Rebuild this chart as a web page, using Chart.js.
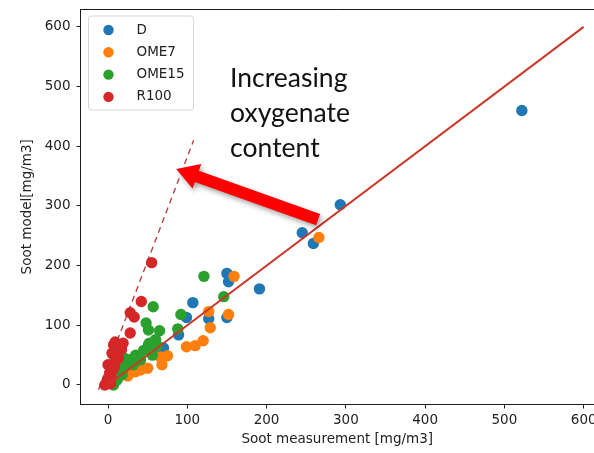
<!DOCTYPE html>
<html>
<head>
<meta charset="utf-8">
<script src="https://cdn.jsdelivr.net/npm/chart.js@4/dist/chart.umd.min.js"></script>
<style>
  html, body { margin: 0; padding: 0; background: #fff; overflow: hidden; }
</style>
</head>
<body>
<canvas id="soot" width="594" height="453"></canvas>
<script>
// measured vs modelled soot, one point list per fuel
const seriesNames = ["D", "OME7", "OME15", "R100"];
const seriesColors = ["#1f77b4", "#ff7f0e", "#2ca02c", "#d62728"];

const sootD = [
  [522, 460], [293, 302], [245, 255], [259, 237], [191, 161], [150, 187],
  [152, 173], [107, 138], [127, 111], [150, 113], [99, 113], [89, 84],
  [51, 67], [70, 62], [66, 56], [40, 40], [25, 30], [12, 10], [5, 5]
];
const sootOME7 = [
  [266, 247], [159, 182], [127, 123], [152, 118], [129, 96], [120, 74],
  [110, 66], [99, 64], [75, 49], [66, 47], [68, 34], [50, 28], [41, 25],
  [34, 22], [18, 25], [25, 15], [10, 12], [5, 5]
];
const sootOME15 = [
  [121, 182], [146, 148], [92, 118], [88, 94], [57, 131], [48, 104],
  [51, 92], [65, 91], [60, 76], [52, 70], [51, 62], [56, 50], [41, 42],
  [32, 45], [22, 44], [26, 37], [32, 34], [18, 17], [11, 8], [7, 0],
  [18, 25], [35, 50], [15, 30], [45, 58], [62, 66]
];
const sootR100 = [
  [55, 205], [42, 140], [28, 121], [33, 114], [28, 87], [15, 64], [9, 72],
  [19, 70], [7, 67], [17, 59], [5, 53], [13, 45], [0, 34], [2, 20], [-1, 8],
  [-4, 0], [3, 2], [8, 30], [10, 40], [12, 50], [4, 12], [6, 25], [1, 5]
];

// reference lines: parity y = x and the steeper dashed guide
const parityLine = [[0, 0], [600, 600]];
const dashedLine = [[-12, -8], [108, 410]];

const xTicks = [0, 100, 200, 300, 400, 500, 600];
const yTicks = [0, 100, 200, 300, 400, 500, 600];

const annotationLines = ["Increasing", "oxygenate", "content"];

const toXY = pts => pts.map(p => ({ x: p[0], y: p[1] }));
const tickFont = { family: "DejaVu Sans", size: 13.5 };

const pointSet = (i, pts, order) => ({
  label: seriesNames[i],
  data: toXY(pts),
  backgroundColor: seriesColors[i],
  borderWidth: 0,
  pointRadius: 5.7,
  pointHoverRadius: 5.7,
  order: order
});

// top edge of the frame, legend box, arrow and text over the plot
const overlay = {
  id: "overlay",
  afterDatasetsDraw(chart) {
    const { ctx, chartArea: a, scales: { x, y } } = chart;
    ctx.save();

    ctx.strokeStyle = "#1a1a1a";
    ctx.lineWidth = 1;
    ctx.beginPath();
    ctx.moveTo(a.left, Math.round(a.top) + 0.5);
    ctx.lineTo(a.right, Math.round(a.top) + 0.5);
    ctx.stroke();

    // legend
    const lx = a.left + 8, ly = a.top + 7, lw = 105, lh = 94;
    ctx.beginPath();
    ctx.roundRect(lx, ly, lw, lh, 3);
    ctx.fillStyle = "rgba(255,255,255,0.85)";
    ctx.fill();
    ctx.strokeStyle = "#d6d6d6";
    ctx.stroke();
    ctx.font = "13.5px 'DejaVu Sans'";
    ctx.textBaseline = "middle";
    seriesNames.forEach((name, i) => {
      const cy = ly + 14 + i * 22.3;
      ctx.beginPath();
      ctx.arc(lx + 20, cy, 5.2, 0, Math.PI * 2);
      ctx.fillStyle = seriesColors[i];
      ctx.fill();
      ctx.fillStyle = "#222";
      ctx.fillText(name, lx + 48, cy);
    });

    // arrow pointing towards the dashed guide
    const tipX = x.getPixelForValue(86), tipY = y.getPixelForValue(362);
    const tailX = x.getPixelForValue(265), tailY = y.getPixelForValue(277);
    const ang = Math.atan2(tipY - tailY, tipX - tailX);
    const len = Math.hypot(tipX - tailX, tipY - tailY);
    const shaftHalf = 6, headLen = 22, headHalf = 13;
    ctx.translate(tailX, tailY);
    ctx.rotate(ang);
    ctx.shadowColor = "rgba(0,0,0,0.35)";
    ctx.shadowBlur = 5;
    ctx.shadowOffsetX = 2;
    ctx.shadowOffsetY = 3;
    ctx.beginPath();
    ctx.moveTo(0, -shaftHalf);
    ctx.lineTo(len - headLen, -shaftHalf);
    ctx.lineTo(len - headLen, -headHalf);
    ctx.lineTo(len, 0);
    ctx.lineTo(len - headLen, headHalf);
    ctx.lineTo(len - headLen, shaftHalf);
    ctx.lineTo(0, shaftHalf);
    ctx.closePath();
    ctx.fillStyle = "#ff0000";
    ctx.fill();
    ctx.setTransform(1, 0, 0, 1, 0, 0);
    ctx.shadowColor = "transparent";

    // annotation text
    ctx.fillStyle = "#111";
    ctx.font = "26.5px Lato";
    ctx.textBaseline = "alphabetic";
    ctx.textAlign = "left";
    const tx = x.getPixelForValue(154);
    annotationLines.forEach((line, i) => {
      ctx.fillText(line, tx, 87 + i * 35);
    });

    ctx.restore();
  }
};

new Chart(document.getElementById("soot"), {
  type: "scatter",
  data: {
    datasets: [
      {
        label: "parity",
        data: toXY(parityLine),
        showLine: true,
        borderColor: "#c8392b",
        borderWidth: 2,
        pointRadius: 0,
        order: 0
      },
      {
        label: "guide",
        data: toXY(dashedLine),
        showLine: true,
        borderColor: "rgba(176,48,48,0.9)",
        borderWidth: 1.4,
        borderDash: [6, 4.5],
        pointRadius: 0,
        order: 0
      },
      pointSet(0, sootD, 4),
      pointSet(1, sootOME7, 3),
      pointSet(2, sootOME15, 2),
      pointSet(3, sootR100, 1)
    ]
  },
  options: {
    responsive: false,
    animation: false,
    layout: { autoPadding: false, padding: { top: 9, right: 0, left: 0, bottom: 0 } },
    scales: {
      x: {
        type: "linear",
        min: -34.7,
        max: 613,
        afterBuildTicks: s => { s.ticks = xTicks.map(v => ({ value: v })); },
        afterFit: s => { s.height = 48.5; s.paddingLeft = 0; s.paddingRight = 0; },
        grid: { drawOnChartArea: false, drawTicks: true, tickLength: 4, color: "#222" },
        border: { color: "#1a1a1a" },
        ticks: { font: tickFont, color: "#222", padding: 4, maxRotation: 0 },
        title: {
          display: true,
          text: "Soot measurement [mg/m3]",
          font: tickFont,
          color: "#222",
          padding: { top: 0, bottom: 5 }
        }
      },
      y: {
        type: "linear",
        min: -32.7,
        max: 630,
        afterBuildTicks: s => { s.ticks = yTicks.map(v => ({ value: v })); },
        afterFit: s => { s.width = 80.5; s.paddingTop = 0; s.paddingBottom = 0; },
        grid: { drawOnChartArea: false, drawTicks: true, tickLength: 4, color: "#222" },
        border: { color: "#1a1a1a" },
        ticks: { font: tickFont, color: "#222", padding: 6 },
        title: {
          display: true,
          text: "Soot model[mg/m3]",
          font: tickFont,
          color: "#222",
          padding: { top: 19, bottom: 0 }
        }
      }
    },
    plugins: {
      legend: { display: false },
      tooltip: { enabled: false }
    }
  },
  plugins: [overlay]
});
</script>
</body>
</html>
